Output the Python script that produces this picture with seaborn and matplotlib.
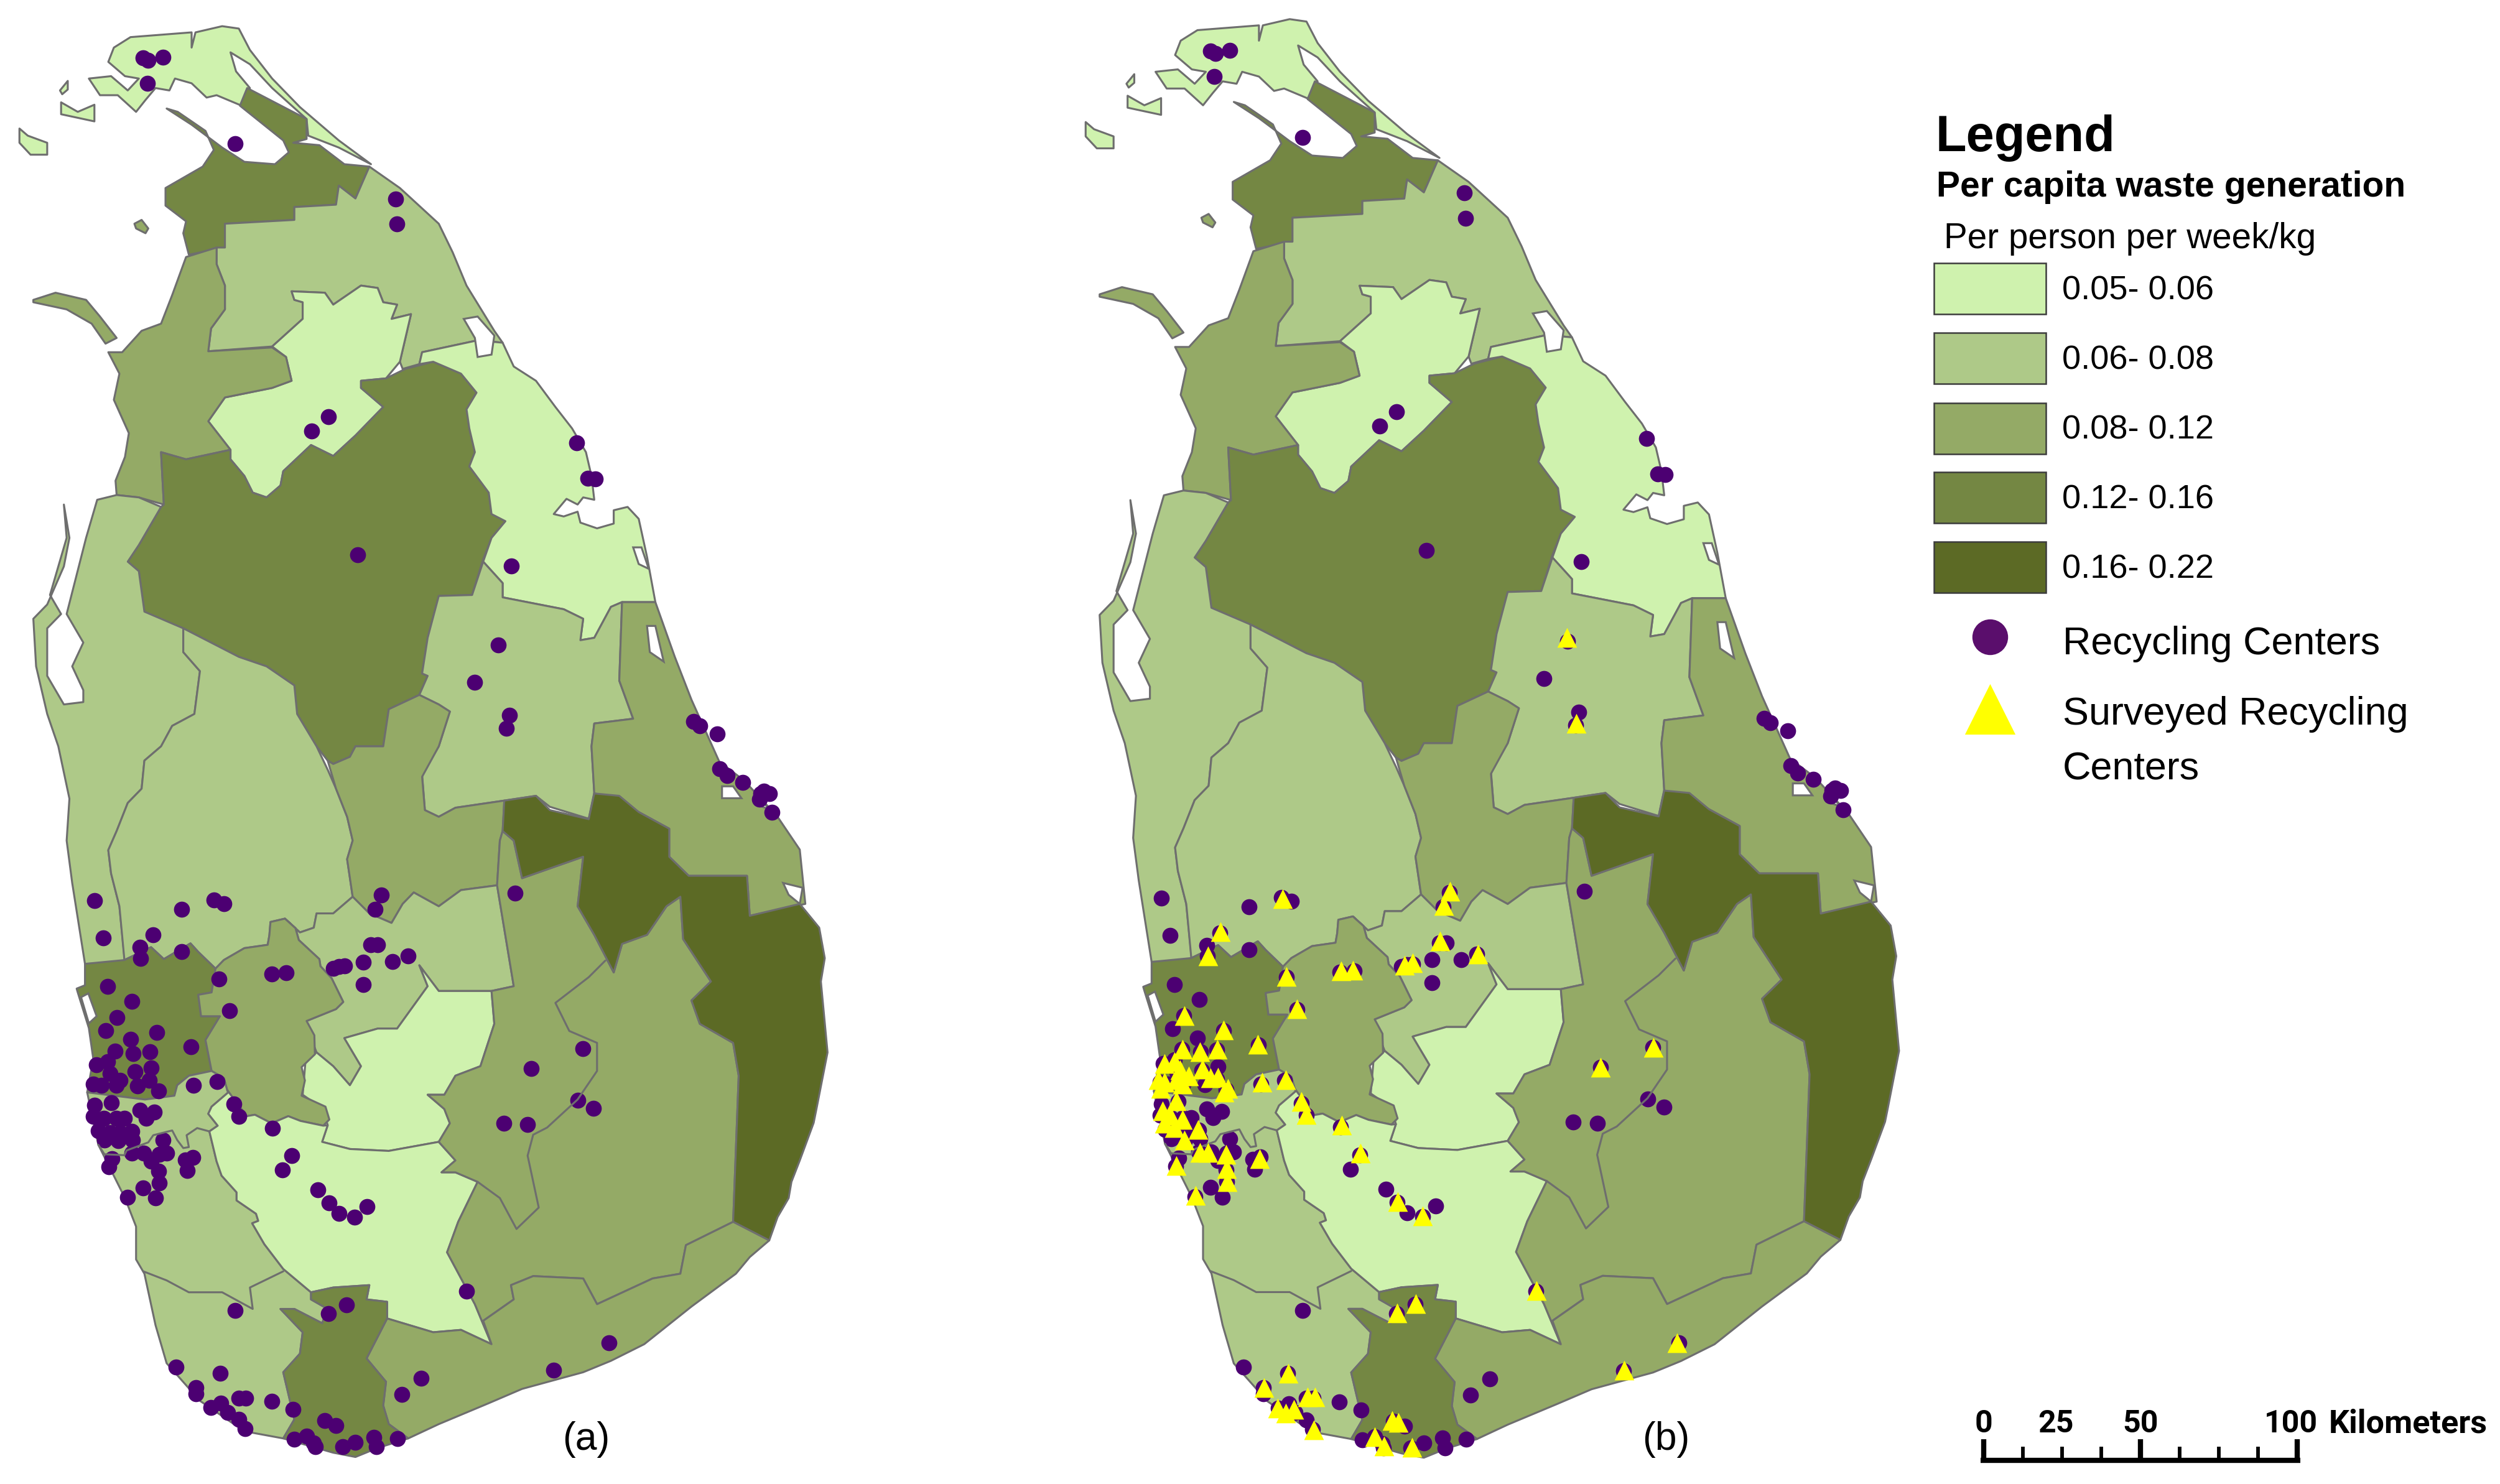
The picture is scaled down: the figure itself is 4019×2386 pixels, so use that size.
import matplotlib
matplotlib.use("Agg")
import matplotlib.pyplot as plt
import pandas as pd
import seaborn as sns

# Map units are plain "digitised" units
class_labels = ["0.05- 0.06", "0.06- 0.08", "0.08- 0.12", "0.12- 0.16", "0.16- 0.22"]
class_colors = ["#CFF2AE", "#AEC988", "#94AA66", "#748743", "#5C6A25"]

jaffna = [(205,100),(235,78),(345,68),(345,100),(352,68),(400,55),(430,60),(450,105),(490,165),(540,225),(610,295),(668,345),(610,310),(555,285),(552,250),(490,185),(450,135),(415,110),(425,150),(450,185),(435,222),(390,200),(372,205),(345,175),(315,165),(305,190),(280,185),(262,210),(245,235),(212,200),(180,200),(160,165),(200,160),(230,190),(250,165),(225,160),(195,130)]
kilinochchi = [(445,185),(552,250),(552,292),(528,300),(575,305),(620,345),(665,350),(640,417),(610,390),(605,430),(530,435),(530,462),(405,470),(405,520),(340,535),(330,490),(335,465),(298,432),(298,395),(365,350),(385,315),(370,275),(320,235),(300,228),(345,262),(400,310),(440,340),(495,345),(520,320),(510,295),(432,222)]
mullaitivu = [(665,350),(720,395),(790,470),(815,530),(840,600),(890,695),(905,720),(860,715),(760,740),(755,765),(725,775),(720,760),(740,660),(705,670),(715,640),(690,635),(680,605),(650,600),(600,640),(585,615),(525,612),(530,630),(545,635),(545,670),(490,728),(375,738),(380,690),(405,650),(405,600),(390,555),(390,520),(405,520),(405,470),(530,462),(530,435),(605,430),(610,390),(640,417)]
vavuniya = [(525,612),(585,615),(600,640),(650,600),(680,605),(690,635),(715,640),(705,670),(740,660),(720,760),(695,795),(650,800),(650,815),(690,855),(640,915),(600,958),(560,935),(510,990),(505,1020),(480,1045),(455,1035),(440,1000),(415,965),(415,945),(375,885),(405,835),(490,815),(525,800),(515,750),(490,728),(545,670),(545,635),(530,630)]
mannar = [(375,738),(490,730),(515,750),(525,800),(490,815),(405,835),(375,885),(415,945),(335,965),(290,950),(295,1060),(250,1045),(210,1040),(208,1010),(225,960),(232,910),(205,840),(215,785),(195,740),(220,740),(255,695),(290,680),(310,620),(335,540),(390,520),(390,555),(405,600),(405,650),(380,690)]
mannar_island = [(60,630),(100,615),(155,630),(180,665),(210,710),(190,722),(165,680),(120,650),(60,635)]
anuradhapura = [(290,950),(335,965),(415,945),(415,965),(440,1000),(455,1035),(480,1045),(505,1020),(510,990),(560,935),(600,958),(640,915),(690,855),(650,815),(650,800),(695,795),(730,775),(780,760),(830,785),(858,825),(840,860),(845,900),(855,950),(845,980),(880,1035),(885,1080),(910,1095),(885,1130),(870,1175),(850,1250),(790,1252),(770,1340),(760,1415),(770,1420),(755,1460),(700,1490),(690,1568),(640,1568),(630,1590),(600,1605),(590,1598),(570,1568),(535,1500),(530,1440),(480,1400),(430,1380),(330,1320),(275,1295),(260,1285),(250,1200),(230,1180),(250,1145),(290,1065),(295,1060)]
trincomalee = [(760,740),(860,715),(905,720),(925,770),(965,800),(1000,855),(1030,900),(1055,950),(1065,1000),(1070,1050),(1050,1045),(1040,1060),(1020,1048),(997,1080),(1015,1085),(1040,1075),(1045,1098),(1075,1110),(1105,1100),(1105,1072),(1130,1065),(1150,1090),(1165,1170),(1180,1265),(1120,1265),(1100,1275),(1070,1340),(1045,1345),(1050,1300),(1015,1280),(905,1255),(905,1225),(870,1180),(885,1130),(910,1095),(885,1080),(880,1035),(845,980),(855,950),(845,900),(840,860),(858,825),(830,785),(780,760),(755,765)]
polonnaruwa = [(790,1252),(850,1250),(870,1180),(905,1225),(905,1255),(1015,1280),(1050,1300),(1045,1345),(1070,1340),(1100,1275),(1120,1265),(1115,1430),(1140,1510),(1070,1520),(1065,1568),(1070,1665),(1060,1720),(990,1695),(965,1672),(908,1682),(820,1697),(790,1716),(765,1702),(760,1627),(790,1568),(810,1495),(790,1480),(755,1460),(770,1420),(760,1415),(770,1340)]
batticaloa = [(1120,1265),(1180,1265),(1215,1380),(1245,1470),(1295,1600),(1340,1640),(1400,1716),(1440,1785),(1450,1899),(1350,1924),(1345,1840),(1240,1840),(1205,1800),(1205,1741),(1150,1706),(1090,1672),(1070,1667),(1065,1568),(1070,1520),(1140,1510),(1115,1430)]
puttalam = [(175,1050),(210,1040),(250,1045),(290,1065),(250,1145),(230,1180),(250,1200),(260,1285),(330,1320),(330,1370),(360,1410),(350,1500),(310,1525),(290,1568),(260,1598),(255,1657),(230,1687),(210,1746),(195,1786),(200,1835),(215,1904),(225,2023),(153,2025),(130,1855),(120,1766),(125,1678),(105,1568),(85,1500),(65,1400),(60,1300),(85,1270),(115,1190),(125,1130),(115,1060),(120,1130),(90,1250),(110,1290),(85,1320),(85,1420),(115,1480),(150,1475),(150,1450),(130,1400),(150,1350),(120,1290),(155,1130)]
kurunegala = [(330,1320),(430,1380),(480,1400),(530,1440),(535,1500),(570,1568),(590,1617),(605,1657),(625,1716),(635,1766),(625,1805),(635,1884),(600,1919),(570,1919),(565,1949),(540,1959),(513,1930),(487,1937),(485,1965),(482,1985),(440,1992),(403,2017),(388,2035),(357,2000),(343,1982),(295,2015),(272,1990),(224,2017),(215,1904),(200,1835),(195,1786),(210,1746),(230,1687),(255,1657),(260,1598),(290,1568),(310,1525),(350,1500),(360,1410),(330,1370)]
matale = [(700,1490),(755,1460),(790,1480),(810,1495),(790,1568),(760,1632),(765,1702),(790,1716),(820,1697),(908,1682),(905,1746),(900,1766),(895,1860),(830,1870),(790,1904),(745,1875),(725,1899),(705,1939),(665,1919),(635,1884),(625,1805),(635,1766),(625,1716),(605,1657),(590,1598),(600,1605),(630,1590),(640,1568),(690,1568)]
kandy = [(635,1884),(665,1919),(705,1939),(725,1899),(745,1875),(790,1904),(830,1870),(895,1860),(925,2072),(885,2082),(790,2082),(755,2028),(770,2072),(715,2161),(680,2161),(620,2181),(650,2240),(630,2280),(600,2240),(570,2211),(555,2166),(552,2145),(605,2120),(618,2105),(597,2055),(577,2030),(575,2015),(538,1975),(532,1950),(513,1930),(540,1959),(565,1949),(570,1919),(600,1919)]
nuwara_eliya = [(755,2028),(790,2082),(885,2082),(890,2151),(865,2240),(820,2260),(800,2300),(770,2300),(800,2330),(810,2360),(790,2399),(700,2418),(630,2414),(580,2399),(590,2364),(582,2330),(545,2300),(550,2230),(570,2211),(600,2240),(630,2280),(650,2240),(620,2181),(680,2161),(715,2161),(770,2072)]
gampaha = [(153,2025),(224,2017),(272,1990),(295,2015),(343,1982),(357,2000),(388,2035),(381,2085),(357,2090),(362,2135),(396,2135),(370,2185),(381,2250),(340,2260),(319,2280),(314,2302),(261,2310),(157,2295),(168,2225),(160,2160),(140,2085),(138,2077),(153,2070)]
kegalle = [(388,2035),(403,2017),(440,1992),(482,1985),(485,1965),(487,1937),(513,1930),(532,1950),(538,1975),(575,2015),(577,2030),(597,2055),(618,2105),(605,2120),(552,2145),(566,2175),(567,2215),(543,2242),(549,2270),(543,2302),(586,2325),(593,2352),(582,2365),(541,2355),(519,2345),(489,2360),(459,2342),(444,2345),(409,2290),(403,2265),(381,2250),(370,2185),(396,2135),(362,2135),(357,2090),(381,2085)]
west_coast = [(157,2295),(261,2310),(314,2302),(319,2280),(340,2260),(381,2250),(403,2265),(409,2290),(411,2295),(381,2325),(375,2340),(392,2365),(377,2377),(390,2440),(399,2470),(426,2505),(426,2522),(461,2550),(465,2565),(454,2570),(476,2614),(510,2666),(560,2715),(560,2730),(590,2750),(580,2780),(530,2750),(505,2750),(545,2799),(540,2844),(510,2883),(530,2982),(510,3022),(440,3007),(360,2943),(300,2864),(280,2784),(260,2676),(245,2646),(245,2577),(225,2517),(177,2405)]
ratnapura = [(411,2295),(381,2325),(375,2340),(392,2365),(377,2377),(390,2440),(399,2470),(426,2505),(426,2522),(461,2550),(465,2565),(454,2570),(476,2614),(510,2666),(560,2715),(600,2705),(665,2700),(660,2730),(697,2735),(697,2770),(780,2799),(830,2794),(885,2824),(855,2740),(805,2631),(825,2567),(860,2483),(820,2463),(795,2463),(820,2438),(790,2399),(700,2418),(630,2414),(580,2399),(590,2364),(582,2365),(541,2355),(519,2345),(489,2360),(459,2342),(444,2345),(409,2290)]
uva = [(895,1860),(925,2072),(885,2082),(890,2151),(865,2240),(820,2260),(800,2300),(770,2300),(800,2330),(810,2360),(790,2399),(820,2438),(795,2463),(820,2463),(860,2483),(825,2567),(805,2631),(855,2740),(885,2824),(870,2775),(925,2730),(920,2700),(960,2681),(1050,2686),(1075,2740),(1175,2686),(1225,2676),(1235,2616),(1320,2567),(1330,2260),(1320,2191),(1260,2151),(1245,2102),(1280,2062),(1230,1973),(1225,1884),(1200,1904),(1165,1964),(1120,1983),(1105,2043),(1070,1964),(1040,1904),(1050,1800),(940,1845),(925,1766),(905,1746),(900,1766)]
ampara = [(905,1746),(908,1682),(965,1672),(990,1702),(1060,1721),(1070,1667),(1115,1672),(1150,1706),(1205,1741),(1205,1800),(1240,1840),(1345,1840),(1350,1924),(1440,1899),(1475,1949),(1485,2013),(1478,2062),(1490,2211),(1470,2330),(1465,2359),(1440,2438),(1425,2483),(1420,2517),(1400,2557),(1385,2606),(1320,2567),(1330,2260),(1320,2191),(1260,2151),(1245,2102),(1280,2062),(1230,1973),(1225,1884),(1200,1904),(1165,1964),(1120,1983),(1105,2043),(1070,1964),(1040,1904),(1050,1800),(940,1845),(925,1766)]
hambantota = [(697,2770),(780,2799),(830,2794),(885,2824),(870,2775),(925,2730),(920,2700),(960,2681),(1050,2686),(1075,2740),(1175,2686),(1225,2676),(1235,2616),(1320,2567),(1385,2606),(1350,2641),(1325,2676),(1245,2745),(1160,2824),(1100,2859),(1050,2883),(940,2918),(880,2948),(790,2992),(735,3022),(700,2992),(690,2953),(695,2903),(660,2854)]
matara = [(560,2715),(600,2705),(665,2700),(660,2730),(697,2735),(697,2770),(660,2854),(695,2903),(690,2953),(700,2992),(735,3022),(680,3042),(640,3061),(600,3052),(510,3022),(530,2982),(510,2883),(540,2844),(545,2799),(505,2750),(530,2750),(580,2780),(590,2750),(560,2730)]
delft = [(35,270),(50,285),(85,300),(85,325),(55,325),(35,300)]
islet_north = [(110,215),(140,235),(170,220),(170,255),(110,240)]
islet_spit = [(108,190),(122,170),(122,188),(112,198)]
islet_mid = [(242,470),(255,462),(267,480),(262,490),(245,480)]

# (outline, pay-load class index)
districts = [
    (jaffna, 0), (kilinochchi, 3), (mullaitivu, 1), (vavuniya, 0), (mannar, 2),
    (mannar_island, 2), (anuradhapura, 3), (trincomalee, 0), (polonnaruwa, 1),
    (batticaloa, 2), (puttalam, 1), (kurunegala, 1), (matale, 2), (kandy, 1),
    (nuwara_eliya, 0), (gampaha, 3), (kegalle, 2), (west_coast, 1), (ratnapura, 0),
    (uva, 2), (ampara, 4), (hambantota, 2), (matara, 3), (delft, 0),
    (islet_north, 0), (islet_spit, 0), (islet_mid, 2),
]

# inner boundaries between districts of the same class
border_uva = [(1090,2018),(1060,2053),(1000,2107),(1025,2166),(1075,2191),(1075,2250),(1040,2310),(985,2369),(960,2384),(950,2428),(970,2537),(930,2582),(900,2517),(860,2483)]
border_colombo = [(177,2405),(188,2425),(224,2427),(228,2417),(267,2400),(276,2385),(310,2375),(319,2395),(330,2412),(340,2410),(336,2385),(355,2370),(377,2377)]
border_galle = [(258,2671),(300,2690),(340,2715),(400,2715),(455,2750),(450,2705),(510,2671)]
borders = [border_uva, border_colombo, border_galle]

lagoon_kokkilai = [(835,670),(860,665),(890,705),(885,745),(860,750),(855,710)]
lagoon_verugal = [(1140,1150),(1155,1150),(1168,1195),(1150,1185)]
lagoon_kalladi = [(1165,1315),(1180,1315),(1195,1390),(1170,1370)]
lagoon_batti_a = [(1300,1652),(1320,1652),(1335,1677),(1300,1677)]
lagoon_batti_b = [(1360,1665),(1385,1700),(1360,1690)]
lagoon_batti_c = [(1410,1855),(1445,1865),(1440,1899),(1420,1880)]
lagoon_negombo = [(146,2095),(159,2087),(174,2135),(160,2150)]
lagoons = [lagoon_kokkilai, lagoon_verugal, lagoon_kalladi, lagoon_batti_a,
           lagoon_batti_b, lagoon_batti_c, lagoon_negombo]

centers_x = [258,267,293,265,423,712,714,591,561,644,921,1038,1058,1072,897,855,917,912,1249,1260,1291,
             1296,1309,1337,1370,1385,1375,1368,1390,927,686,675,170,327,385,403,186,275,252,253,327,668,680,654,707,735,600,620,610,654,490,515,394,194,238,210,413,190,282,235,344,207,240,270,1050,956,
             174,194,198,243,272,168,183,209,216,248,269,286,170,200,168,187,209,224,177,198,216,237,188,213,239,252,278,263,237,259,293,300,287,272,286,287,202,196,334,347,337,258,230,280,
             348,391,421,430,491,525,509,572,592,610,638,661,840,1041,1069,907,950,1096,997,758,723,624,591,423,317,396,353,353,380,398,410,430,441,430,442,489,528,585,605,530,552,565,568,617,640,673,678,716]
centers_y = [122,127,120,175,302,418,471,875,905,1165,1189,931,1005,1006,1355,1433,1503,1530,1516,1525,1542,
             1615,1630,1644,1667,1667,1662,1679,1707,1877,1880,1910,1892,1910,1891,1898,1970,1964,1990,2013,1999,1985,1985,2021,2020,2009,2035,2029,2031,2068,2046,2044,2057,2072,2104,2138,2124,2165,2169,2184,2199,2208,2213,2209,2203,2245,
             2237,2230,2255,2252,2244,2277,2280,2280,2270,2282,2270,2292,2322,2317,2345,2350,2350,2350,2375,2380,2380,2377,2395,2397,2395,2332,2337,2350,2422,2422,2395,2422,2425,2440,2460,2485,2435,2452,2437,2432,2459,2496,2515,2517,
             2280,2272,2320,2345,2370,2428,2458,2500,2527,2549,2557,2535,2713,2312,2328,2360,2362,2821,2879,2896,2930,2741,2760,2753,2872,2885,2915,2928,2957,2948,2967,2982,3002,2937,2937,2944,2961,2985,2995,3024,3017,3032,3040,3040,3030,3020,3040,3022]

surveyed_x = [383,685,674,271,249,667,735,603,618,390,489,510,409,206,277,339,203,235,266,171,189,239,199,214,160,171,192,253,267,203,164,285,278,346,389,417,426,490,192,167,181,203,171,189,206,231,235,249,281,342,283,284,192,227,523,591,636,840,623,589,394,350,428,442,374,389,404,439,581,592,549,566,616,956,1051,998,895,912,1093]
surveyed_y = [1888,1872,1902,1958,2008,1977,2004,2028,2023,2052,2040,2039,2119,2134,2164,2194,2205,2209,2205,2235,2231,2246,2248,2261,2269,2274,2269,2265,2263,2278,2287,2287,2295,2274,2268,2314,2341,2364,2313,2334,2343,2352,2360,2369,2395,2373,2421,2421,2425,2434,2455,2483,2449,2511,2423,2524,2555,2712,2739,2758,2885,2915,2935,2935,2959,2969,2961,3004,2985,2989,3019,3038,3041,2242,2200,2879,1340,1520,2821]

scale_ticks = [0, 12.5, 25, 37.5, 50, 62.5, 75, 87.5, 100]
scale_labels = [0, 25, 50, 100]

W, H = 4019, 2386
EDGE = "#6E6E6E"
PURPLE = "#4C0072"
YELLOW = "#FFFF00"
MAP_W, MAP_H = W * 1.12, H * 1.3067
SURVEY_SHIFT = 1926


def draw_map(ax):
    for outline, cls in districts:
        xs, ys = zip(*outline)
        ax.fill(xs, ys, facecolor=class_colors[cls], edgecolor=EDGE, linewidth=0.75, joinstyle="round")
    for line in borders:
        xs, ys = zip(*line)
        ax.plot(xs, ys, color=EDGE, linewidth=0.75)
    for lake in lagoons:
        xs, ys = zip(*lake)
        ax.fill(xs, ys, facecolor="white", edgecolor=EDGE, linewidth=0.75)


def overlay_axes():
    ax = fig.add_axes([0, 0, 1, 1])
    ax.axis("off")
    ax.patch.set_alpha(0)
    return ax


sns.set_theme(style="white")
plt.rcParams["font.family"] = ["Liberation Sans", "DejaVu Sans"]

df_centers = pd.DataFrame({"x": centers_x, "y": centers_y})
df_surveyed = pd.DataFrame({"x": surveyed_x, "y": surveyed_y})

fig = plt.figure(figsize=(W / 300, H / 300), dpi=300)

# panel (a)
ax_a = overlay_axes()
ax_a.set_xlim(0, MAP_W)
ax_a.set_ylim(MAP_H, 0)
draw_map(ax_a)
sns.scatterplot(data=df_centers, x="x", y="y", ax=ax_a, color=PURPLE, s=38, linewidth=0, legend=False)

# panel (b) is the same map, moved right and very slightly stretched
ax_b = overlay_axes()
ax_b.set_xlim(-1907, 2565)
ax_b.set_ylim(3116, 15)
draw_map(ax_b)
sns.scatterplot(data=df_centers, x="x", y="y", ax=ax_b, color=PURPLE, s=38, linewidth=0, legend=False)

ax_t = overlay_axes()
ax_t.set_xlim(-SURVEY_SHIFT, MAP_W - SURVEY_SHIFT)
ax_t.set_ylim(MAP_H, 0)
sns.scatterplot(data=df_surveyed, x="x", y="y", ax=ax_t, color=YELLOW, marker="^", s=58, linewidth=0, legend=False)

# legend and labels, in figure pixels
ax_l = overlay_axes()
ax_l.set_xlim(0, W)
ax_l.set_ylim(H, 0)

ax_l.text(942, 2314, "(a)", fontsize=15, ha="center", va="center", color="black")
ax_l.text(2678, 2314, "(b)", fontsize=15, ha="center", va="center", color="black")

ax_l.text(3112, 243, "Legend", fontsize=19.5, fontweight="bold", va="baseline", color="black")
ax_l.text(3113, 316, "Per capita waste generation", fontsize=13.7, fontweight="bold", va="baseline", color="black")
ax_l.text(3125, 399, "Per person per week/kg", fontsize=13.6, va="baseline", color="black")

swatch_tops = [423, 535, 648, 759, 871]
for top, color, label in zip(swatch_tops, class_colors, class_labels):
    ax_l.add_patch(plt.Rectangle((3109, top), 180, 82, facecolor=color, edgecolor="#3C3C3C", linewidth=0.6))
    ax_l.text(3315, top + 44, label, fontsize=13, va="center", color="black")

ax_l.scatter([3199], [1024], s=190, color="#5A0E6C", linewidth=0)
ax_l.scatter([3199], [1140], s=380, color=YELLOW, marker="^", linewidth=0)
ax_l.text(3316, 1052, "Recycling Centers", fontsize=15.1, va="baseline", color="black")
ax_l.text(3316, 1165, "Surveyed Recycling", fontsize=15.1, va="baseline", color="black")
ax_l.text(3316, 1253, "Centers", fontsize=15.1, va="baseline", color="black")

# scale bar runs on its own km axis
ax_s = fig.add_axes([3189 / W, 1 - 2352 / H, (3693 - 3189) / W, 38 / H])
ax_s.set_xlim(0, 100)
ax_s.set_ylim(0, 38)
ax_s.axis("off")
ax_s.patch.set_alpha(0)
ax_s.hlines(4, -1, 101, color="black", linewidth=2, clip_on=False)
for km in scale_ticks:
    major = km in (0, 50, 100)
    ax_s.vlines(km, 0, 38 if major else 26, color="black", linewidth=2 if major else 1.4, clip_on=False)
# the 25 label sits a little left of its tick in the source
label_nudge = {0: 0, 25: -2, 50: 0, 100: -2}
for km in scale_labels:
    ax_s.text(km + label_nudge[km], 49, str(km), fontsize=12, fontweight="bold", family="Roboto", ha="center", va="baseline", clip_on=False, color="black")
ax_s.text(110, 49, "Kilometers", fontsize=12.5, fontweight="bold", family="Roboto", ha="left", va="baseline", clip_on=False, color="black")

fig.savefig("out.png", dpi=300, facecolor="white")
